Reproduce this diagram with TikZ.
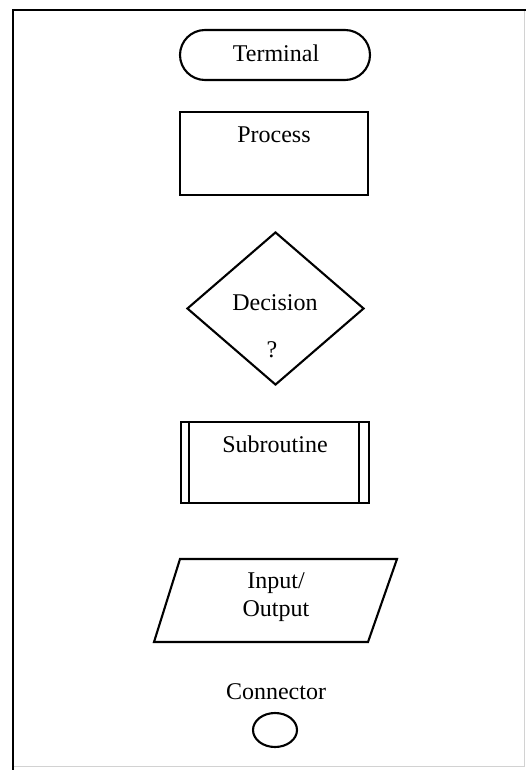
\documentclass[tikz,border=0pt]{standalone}
\usepackage{fontspec}
\setmainfont{Liberation Serif}
\usetikzlibrary{shapes.geometric}
\begin{document}
\begin{tikzpicture}[x=1pt,y=-1pt,
  lbl/.style={font=\fontsize{24}{27.5}\selectfont, inner sep=0pt, align=center},
  shp/.style={draw, line width=2.1pt, inner sep=0pt},
  edge/.style={line width=2.1pt},
  frame/.style={line width=2.4pt},
  faint/.style={draw=gray!35, line width=1pt}]
\useasboundingbox (0,0) rectangle (526,770);
% outer frame
\coordinate (f1) at (13,770);
\coordinate (f2) at (13,10);
\coordinate (f3) at (526,10);
\coordinate (f4) at (524.5,11);
\coordinate (f5) at (524.5,766);
\coordinate (f6) at (14,766);
\draw[faint] (f4) -- (f5) -- (f6);
\draw[frame] (f1) -- (f2) -- (f3);
% terminal
\node[shp, rounded corners=25pt, minimum width=190pt, minimum height=50pt] (term) at (275,55) {};
\node[lbl] (termt) at (276,53) {Terminal};
% process
\node[shp, minimum width=188pt, minimum height=83pt] (proc) at (274,153.5) {};
\node[lbl] (proct) at (274,135) {Process};
% decision
\node[shp, diamond, minimum width=177pt, minimum height=153pt] (dec) at (275.5,308.5) {};
\node[lbl] (dect) at (275,303) {Decision};
\node[lbl] (decq) at (272,350) {?};
% subroutine
\node[shp, minimum width=188pt, minimum height=81pt] (sub) at (275,462.5) {};
\draw[edge] ([xshift=9pt]sub.north west) -- ([xshift=9pt]sub.south west);
\draw[edge] ([xshift=-11pt]sub.north east) -- ([xshift=-11pt]sub.south east);
\node[lbl] (subt) at (275,444) {Subroutine};
% input / output
\coordinate (io1) at (180,559);
\coordinate (io2) at (397,559);
\coordinate (io3) at (368,642);
\coordinate (io4) at (154,642);
\draw[edge] (io1) -- (io2) -- (io3) -- (io4) -- cycle;
\node[lbl] (iot) at (276,597) {Input/\\Output};
% connector
\node[lbl] (cont) at (276,692) {Connector};
\node[shp, ellipse, minimum width=44pt, minimum height=34pt] (con) at (275,730) {};
\end{tikzpicture}
\end{document}
